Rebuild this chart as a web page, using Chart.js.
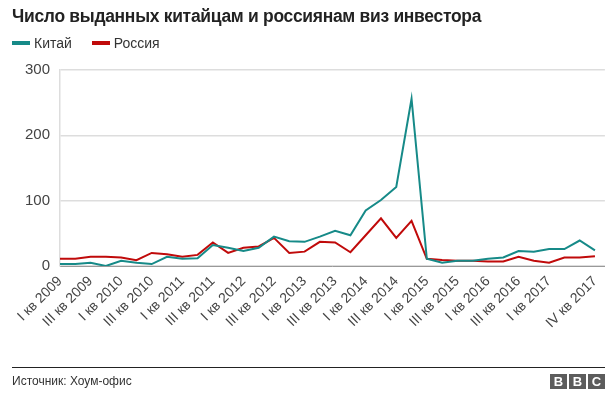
<!DOCTYPE html>
<html>
<head>
<meta charset="utf-8">
<script src="https://cdn.jsdelivr.net/npm/chart.js@4"></script>
<style>
    body { margin: 0; width: 614px; height: 396px; background: #fff; font-family: "Liberation Sans", Arial, sans-serif; overflow: hidden; position: relative; }
    #chart { position: absolute; left: 0; top: 0; }
    .title { position: absolute; left: 12px; top: 6px; font-size: 18px; font-weight: bold; color: #222; letter-spacing: -0.3px; transform: scaleX(0.97); transform-origin: left top; white-space: nowrap; }
    .legend { position: absolute; left: 12px; top: 34px; font-size: 14px; color: #333; }
    .legend span { display: inline-block; vertical-align: middle; }
    .legend .sw { width: 18px; height: 4px; margin-right: 4px; }
    .footer-line { position: absolute; left: 12px; top: 367px; width: 593px; height: 1px; background: #222; }
    .source { position: absolute; left: 12px; top: 374px; font-size: 12px; color: #333; }
    .bbc { position: absolute; right: 9px; top: 374px; display: flex; gap: 2px; }
    .bbc div { width: 17px; height: 15px; background: #5c5c5c; color: #fff; font-weight: bold; font-size: 13px; line-height: 15px; text-align: center; }
</style>
</head>
<body>
<canvas id="chart" width="614" height="396"></canvas>
<div class="title">Число выданных китайцам и россиянам виз инвестора</div>
<div class="legend">
    <span class="sw" style="background:#168a88"></span><span>Китай</span>
    <span class="sw" style="background:#c00a0a; margin-left:16px"></span><span>Россия</span>
</div>
<div class="footer-line"></div>
<div class="source">Источник: Хоум-офис</div>
<div class="bbc"><div>B</div><div>B</div><div>C</div></div>
<script>
const quarters = [
    'I кв 2009', 'II кв 2009', 'III кв 2009', 'IV кв 2009',
    'I кв 2010', 'II кв 2010', 'III кв 2010', 'IV кв 2010',
    'I кв 2011', 'II кв 2011', 'III кв 2011', 'IV кв 2011',
    'I кв 2012', 'II кв 2012', 'III кв 2012', 'IV кв 2012',
    'I кв 2013', 'II кв 2013', 'III кв 2013', 'IV кв 2013',
    'I кв 2014', 'II кв 2014', 'III кв 2014', 'IV кв 2014',
    'I кв 2015', 'II кв 2015', 'III кв 2015', 'IV кв 2015',
    'I кв 2016', 'II кв 2016', 'III кв 2016', 'IV кв 2016',
    'I кв 2017', 'II кв 2017', 'III кв 2017', 'IV кв 2017'
];
const shownTicks = [0, 2, 4, 6, 8, 10, 12, 14, 16, 18, 20, 22, 24, 26, 28, 30, 32, 35];
const yTicks = [0, 100, 200, 300];

const china = [3, 3, 5, 0, 8, 5, 3, 14, 11, 12, 32, 28, 23, 28, 45, 38, 37, 45,
    54, 47, 85, 101, 121, 256, 11, 5, 8, 8, 11, 13, 23, 22, 26, 26, 39, 24];
const russia = [11, 11, 14, 14, 13, 9, 20, 18, 14, 17, 36, 20, 28, 30, 43, 20, 22, 37,
    36, 21, 47, 73, 43, 69, 11, 9, 8, 8, 7, 7, 14, 8, 5, 13, 13, 15];

const toPoints = arr => arr.map((v, i) => ({ x: i, y: v }));

const ctx = document.getElementById('chart').getContext('2d');
new Chart(ctx, {
    type: 'line',
    data: {
        datasets: [{
            label: 'Китай',
            data: toPoints(china),
            borderColor: '#168a88',
            borderWidth: 2,
            pointRadius: 0,
            tension: 0
        }, {
            label: 'Россия',
            data: toPoints(russia),
            borderColor: '#c00a0a',
            borderWidth: 2,
            pointRadius: 0,
            tension: 0
        }]
    },
    options: {
        responsive: false,
        animation: false,
        layout: { padding: { top: 70, right: 9, left: 0, bottom: 0 } },
        plugins: { legend: { display: false }, tooltip: { enabled: false } },
        scales: {
            x: {
                type: 'linear',
                min: 0,
                max: 35.65,
                afterBuildTicks: scale => { scale.ticks = shownTicks.map(v => ({ value: v })); },
                afterFit: scale => { scale.height = 130; },
                grid: { display: false, drawTicks: false },
                border: { display: true, color: '#999', width: 1 },
                ticks: {
                    autoSkip: false,
                    minRotation: 45,
                    maxRotation: 45,
                    padding: 7,
                    color: '#444',
                    font: { family: 'Liberation Sans', size: 14 },
                    callback: value => quarters[value]
                }
            },
            y: {
                min: 0,
                max: 300,
                afterBuildTicks: scale => { scale.ticks = yTicks.map(v => ({ value: v })); },
                afterFit: scale => { scale.width = 60; },
                grid: { color: '#dddddd', lineWidth: 1.5, drawTicks: false },
                border: { display: true, color: '#dddddd', width: 1.5 },
                ticks: {
                    padding: 10,
                    color: '#444',
                    font: { family: 'Liberation Sans', size: 15 }
                }
            }
        }
    }
});
</script>
</body>
</html>
